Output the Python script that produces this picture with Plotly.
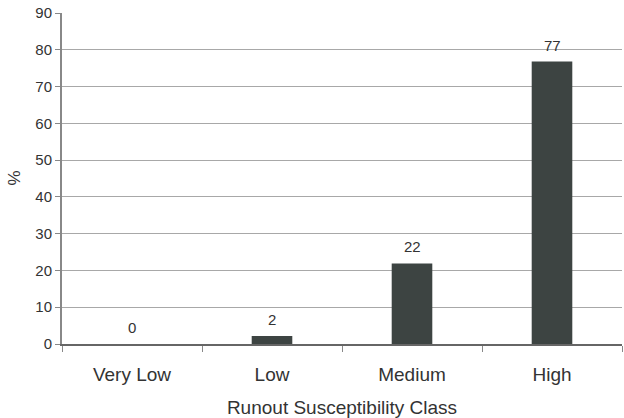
import plotly.graph_objects as go

categories = ["Very Low", "Low", "Medium", "High"]
values = [0, 2.2, 21.9, 76.8]
labels = ["0", "2", "22", "77"]

fig = go.Figure()
fig.add_trace(go.Bar(
    x=categories, y=values,
    marker=dict(color="#3d4442", line=dict(width=0)),
    width=0.29,
))
for c, v, t in zip(categories, values, labels):
    fig.add_annotation(x=c, y=v, text=t, showarrow=False, yanchor="bottom",
                       yshift=6, font=dict(size=15, color="#333333"))

# y-axis title placed as annotation for exact position
fig.add_annotation(xref="paper", yref="paper", x=-48 / 560, y=0.5, text="%",
                   textangle=-90, showarrow=False, xanchor="center", yanchor="middle",
                   font=dict(size=17, color="#333333"))

fig.update_layout(
    width=624, height=418,
    margin=dict(l=62, r=2, t=13, b=74),
    paper_bgcolor="white", plot_bgcolor="white",
    font=dict(family="Liberation Sans, Arial, sans-serif", size=15, color="#333333"),
    showlegend=False,
)
fig.update_yaxes(
    range=[0, 90], dtick=10, showgrid=True, gridcolor="#a8a8a8", gridwidth=1,
    showline=True, linecolor="#888888", linewidth=2, ticks="outside", ticklen=5,
    tickcolor="#888888", zeroline=False, automargin=False,
    tickfont=dict(size=15),
)
fig.update_xaxes(
    showline=True, linecolor="#666666", linewidth=2, ticks="outside", ticklen=6,
    tickcolor="#888888", tickson="boundaries", showgrid=False, automargin=False,
    ticklabelstandoff=12,
    title=dict(text="Runout Susceptibility Class", standoff=17, font=dict(size=19)),
    tickfont=dict(size=19),
)
fig.write_html("out.html", config={"displayModeBar": False},
               post_script="document.body.style.margin='0';")
